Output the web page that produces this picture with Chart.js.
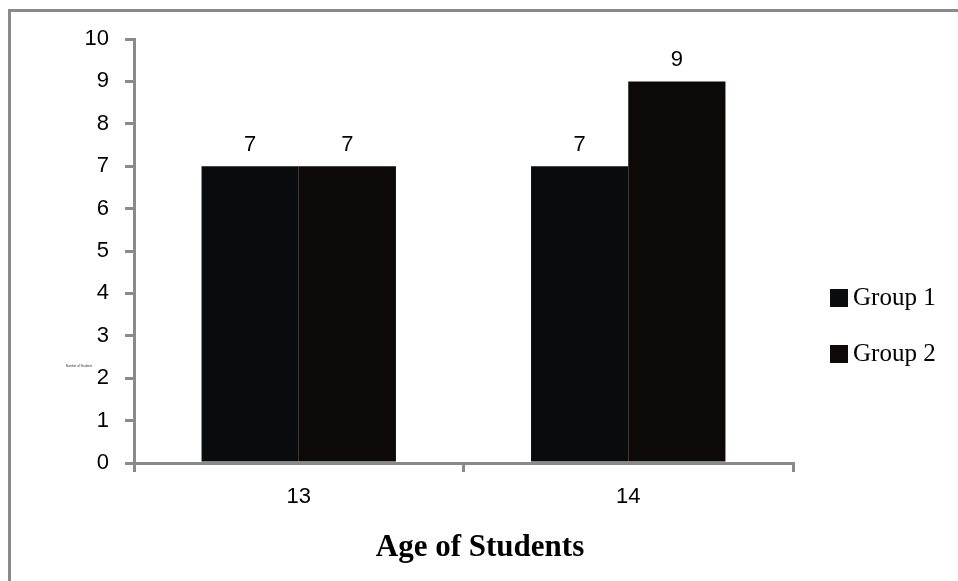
<!DOCTYPE html>
<html>
<head>
<meta charset="utf-8">
<script src="https://cdn.jsdelivr.net/npm/chart.js@4.4.0/dist/chart.umd.min.js"></script>
<style>
  html, body { margin: 0; padding: 0; background: #fff; }
  #wrap { width: 958px; height: 581px; }
</style>
</head>
<body>
<div id="wrap"><canvas id="ageChart" width="958" height="581"></canvas></div>
<script>
// 数据
const categories = ['13', '14'];
const group1 = [7, 7];
const group2 = [7, 9];
const seriesNames = ['Group 1', 'Group 2'];
const yTicks = [0, 1, 2, 3, 4, 5, 6, 7, 8, 9, 10];
const xTitle = 'Age of Students';
const yTitle = 'Number of Students';

const axisGray = '#8a8a8a';
const barColors = ['#0a0b0d', '#0d0909'];

// 外框、标题、图例、数值标签
const decorPlugin = {
    id: 'decor',
    beforeDraw(chart) {
        const ctx = chart.ctx;
        ctx.save();
        ctx.fillStyle = '#fff';
        ctx.fillRect(0, 0, chart.width, chart.height);
        ctx.strokeStyle = axisGray;
        ctx.lineWidth = 3;
        ctx.strokeRect(9.5, 10.5, 1000, 700);
        ctx.restore();
    },
    afterDatasetsDraw(chart) {
        const ctx = chart.ctx;
        ctx.save();
        // 数值标签
        ctx.fillStyle = '#000';
        ctx.font = '22px "Liberation Sans", Arial, sans-serif';
        ctx.textAlign = 'center';
        ctx.textBaseline = 'middle';
        chart.data.datasets.forEach((ds, i) => {
            chart.getDatasetMeta(i).data.forEach((bar, j) => {
                ctx.fillText(String(ds.data[j]), bar.x, bar.y - 21);
            });
        });

        // x 轴标题
        ctx.font = 'bold 31px "Liberation Serif", "Times New Roman", serif';
        ctx.fillText(xTitle, 480, 548);

        // 很小的 y 轴标题
        ctx.font = '3px "Liberation Sans", sans-serif';
        ctx.fillStyle = '#333';
        ctx.fillText(yTitle, 79, 366);

        // 图例
        ctx.textAlign = 'left';
        ctx.font = '25px "Liberation Serif", "Times New Roman", serif';
        chart.data.datasets.forEach((ds, i) => {
            const cy = 298 + i * 56;
            ctx.fillStyle = ds.backgroundColor;
            ctx.fillRect(830, cy - 9, 18, 18);
            ctx.fillStyle = '#000';
            ctx.fillText(ds.label, 853, cy);
        });
        ctx.restore();
    }
};

new Chart(document.getElementById('ageChart'), {
    type: 'bar',
    data: {
        labels: categories,
        datasets: [{
            label: seriesNames[0],
            data: group1,
            backgroundColor: barColors[0],
            categoryPercentage: 0.59,
            barPercentage: 1
        }, {
            label: seriesNames[1],
            data: group2,
            backgroundColor: barColors[1],
            categoryPercentage: 0.59,
            barPercentage: 1
        }]
    },
    options: {
        responsive: false,
        animation: false,
        layout: {
            padding: { left: 0, right: 165, top: 39, bottom: 0 }
        },
        plugins: {
            legend: { display: false },
            tooltip: { enabled: false }
        },
        scales: {
            x: {
                grid: {
                    offset: true,
                    drawOnChartArea: false,
                    color: axisGray,
                    lineWidth: 3,
                    tickLength: 9
                },
                border: { color: axisGray, width: 3 },
                ticks: {
                    color: '#000',
                    padding: 12,
                    font: { family: '"Liberation Sans", Arial, sans-serif', size: 22 }
                },
                afterFit(scale) { scale.height = 118; }
            },
            y: {
                min: 0,
                max: 10,
                afterBuildTicks(scale) {
                    scale.ticks = yTicks.map(v => ({ value: v }));
                },
                grid: {
                    drawOnChartArea: false,
                    color: axisGray,
                    lineWidth: 3,
                    tickLength: 9
                },
                border: { color: axisGray, width: 3 },
                ticks: {
                    color: '#000',
                    padding: 16,
                    font: { family: '"Liberation Sans", Arial, sans-serif', size: 22 }
                },
                afterFit(scale) { scale.width = 134; }
            }
        }
    },
    plugins: [decorPlugin]
});
</script>
</body>
</html>
